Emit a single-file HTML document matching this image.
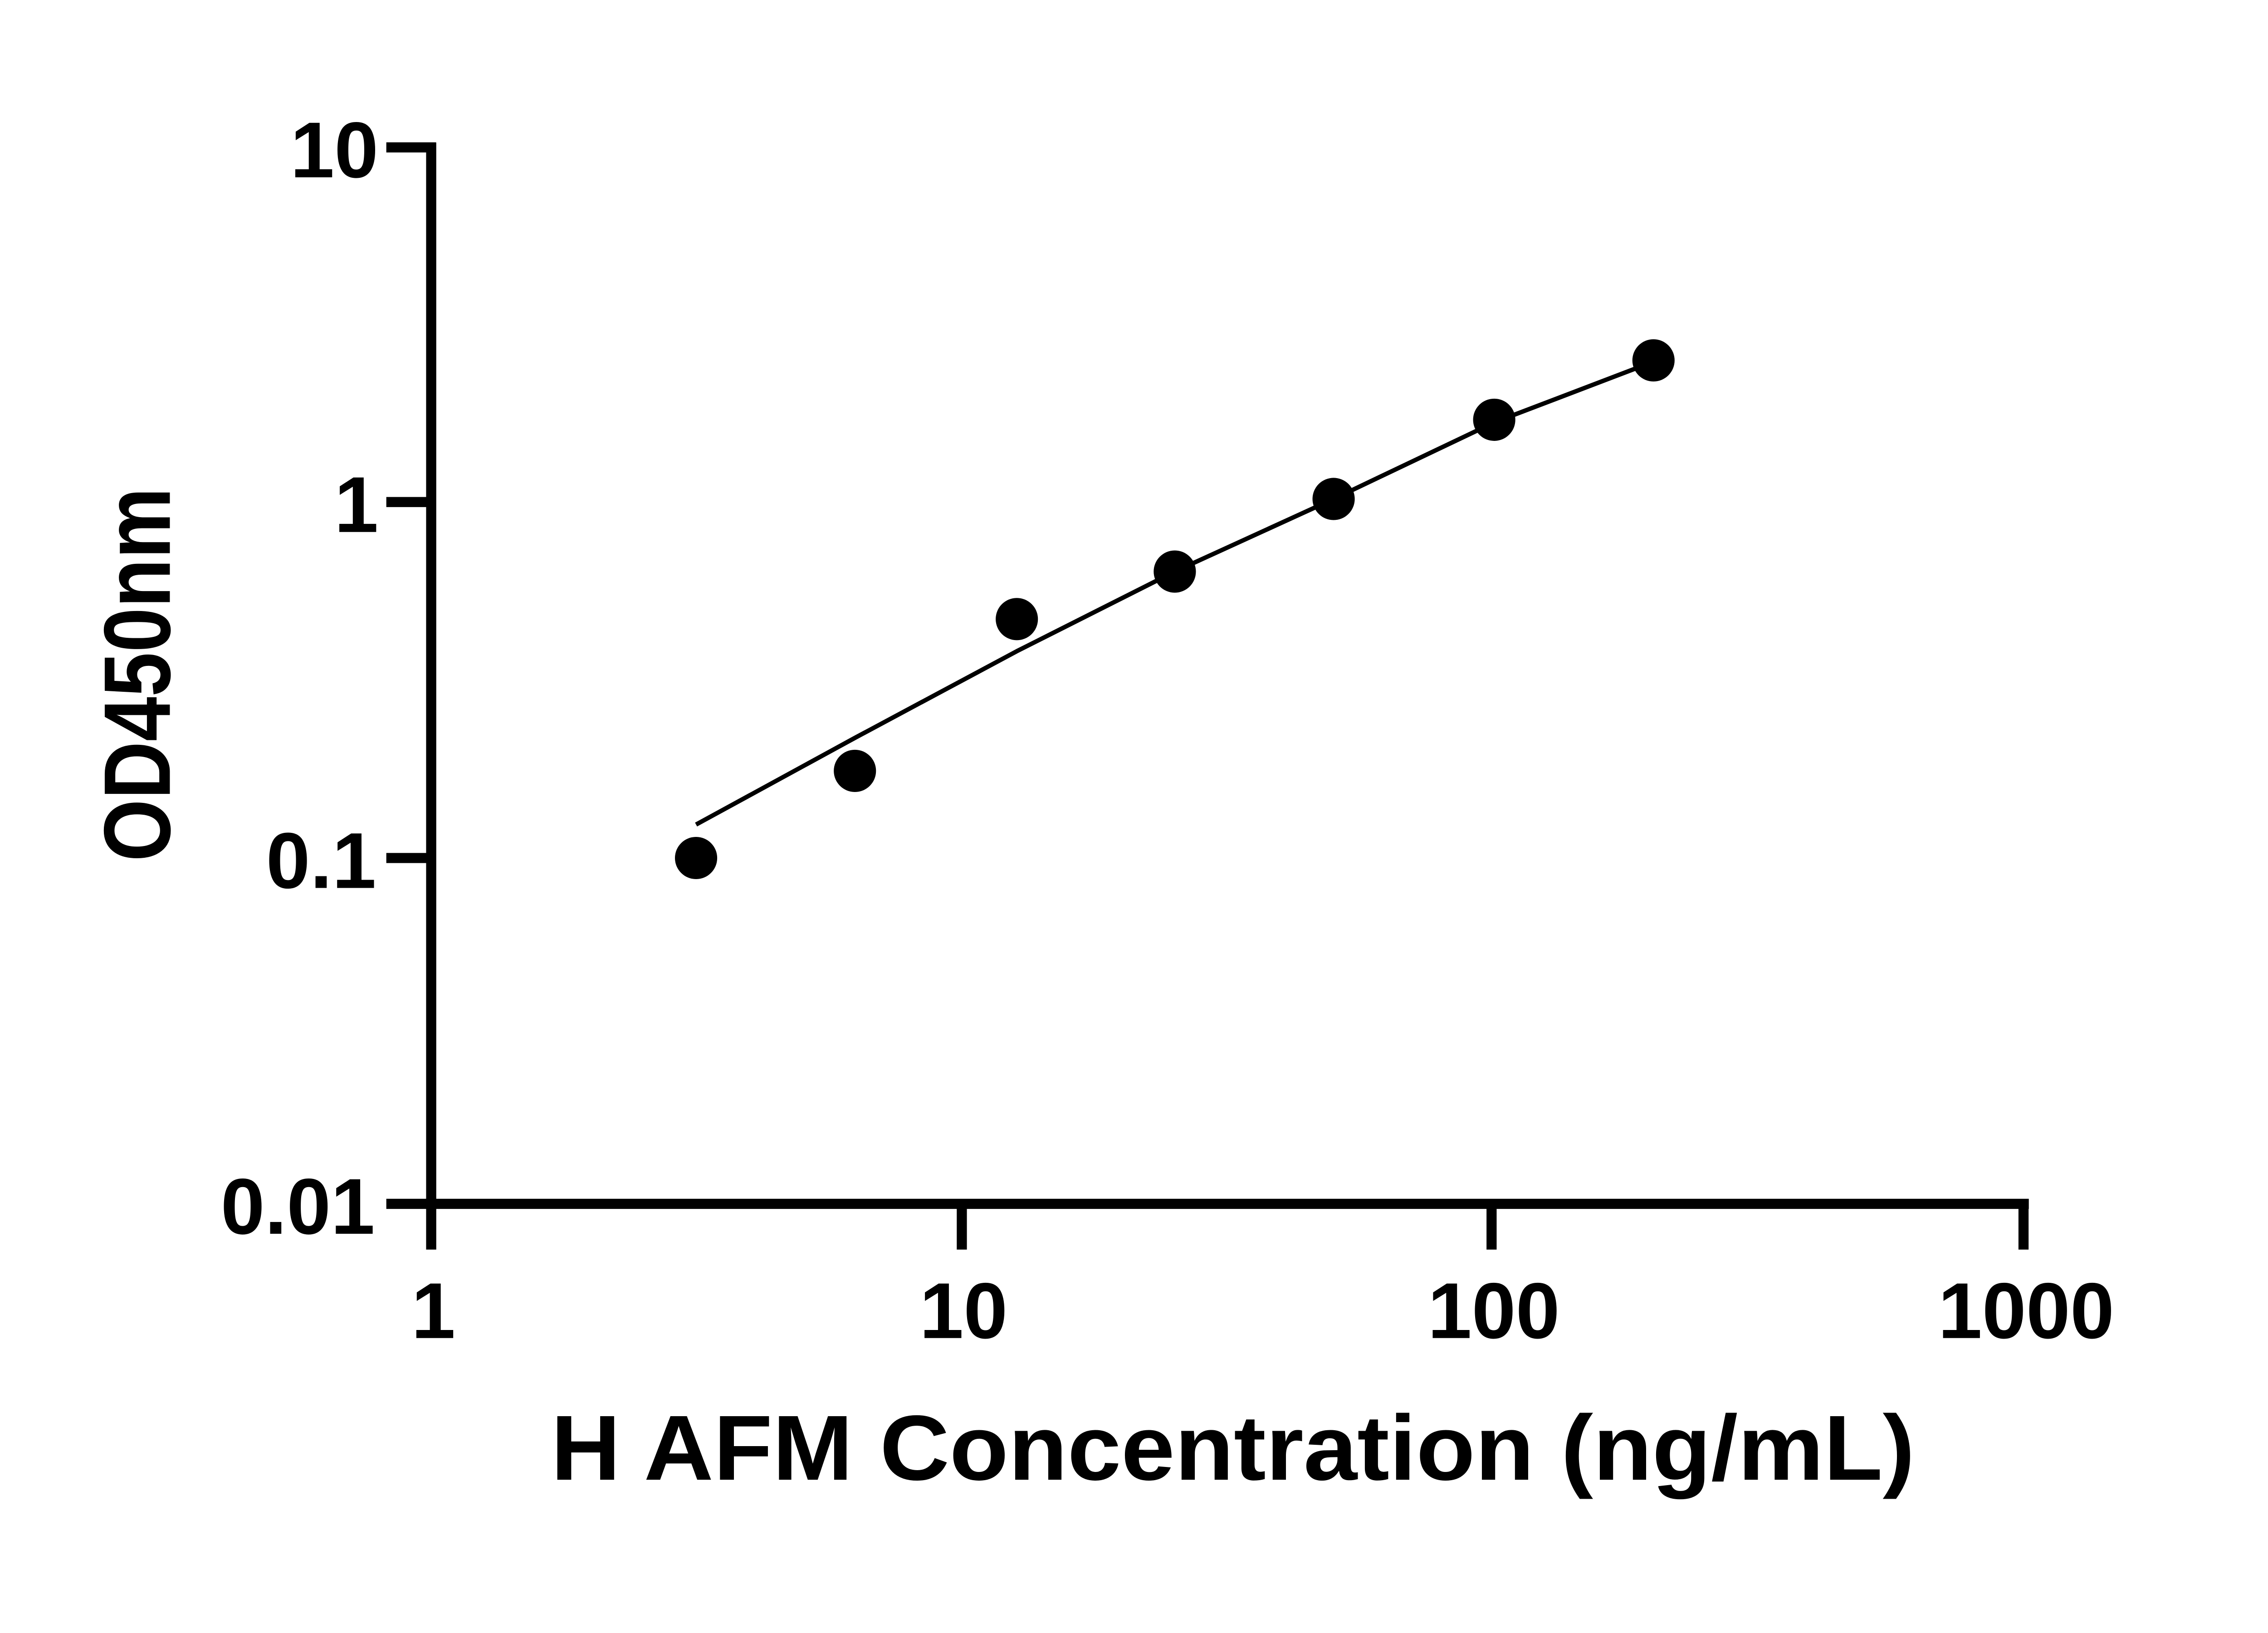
<!DOCTYPE html>
<html><head><meta charset="utf-8"><style>html,body{margin:0;padding:0;background:#fff}svg{display:block}</style></head>
<body>
<svg width="5130" height="3600" viewBox="0 0 5130 3600" xmlns="http://www.w3.org/2000/svg" font-family="'Liberation Sans', Arial, sans-serif" font-weight="bold">
<g transform="scale(0.97)">
<g stroke="#000" stroke-width="23" fill="none">
<line x1="980" y1="324" x2="980" y2="2748"/>
<line x1="968" y1="2736" x2="4611" y2="2736"/>
<line x1="878" y1="335" x2="991" y2="335"/>
<line x1="878" y1="1141" x2="991" y2="1141"/>
<line x1="878" y1="1950" x2="991" y2="1950"/>
<line x1="878" y1="2736" x2="991" y2="2736"/>
<line x1="980" y1="2736" x2="980" y2="2840"/>
<line x1="2186" y1="2736" x2="2186" y2="2840"/>
<line x1="3390" y1="2736" x2="3390" y2="2840"/>
<line x1="4599" y1="2736" x2="4599" y2="2840"/>
</g>
<g font-size="180" text-anchor="end">
<text x="860" y="403">10</text>
<text x="860" y="1209">1</text>
<text x="855" y="2018">0.1</text>
<text x="852" y="2804">0.01</text>
</g>
<g font-size="180" text-anchor="middle">
<text x="985" y="3041">1</text>
<text x="2190" y="3041">10</text>
<text x="3395" y="3041">100</text>
<text x="4605" y="3041">1000</text>
</g>
<text x="2802" y="3363" font-size="210" text-anchor="middle" textLength="3100" lengthAdjust="spacingAndGlyphs">H AFM Concentration (ng/mL)</text>
<text transform="translate(386,1533) rotate(-90)" font-size="215" text-anchor="middle" textLength="850" lengthAdjust="spacingAndGlyphs">OD450nm</text>
<polyline points="1582,1874 1943,1677 2311,1480 2670,1299 3031,1134 3396,960 3758,822" stroke="#000" stroke-width="10" fill="none" stroke-linejoin="round"/>
<g fill="#000">
<circle cx="1582" cy="1950" r="48"/>
<circle cx="1943" cy="1752" r="48"/>
<circle cx="2311" cy="1407" r="48"/>
<circle cx="2670" cy="1299" r="48"/>
<circle cx="3031" cy="1134" r="48"/>
<circle cx="3396" cy="954" r="48"/>
<circle cx="3758" cy="819" r="48"/>
</g>
</g>
</svg>
</body></html>
